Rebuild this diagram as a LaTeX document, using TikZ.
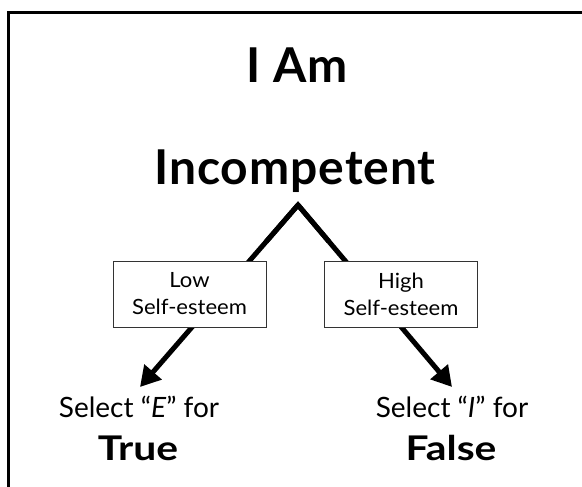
\documentclass[tikz,border=0pt]{standalone}
\usepackage{fontspec}
\setmainfont{Lato}
\usetikzlibrary{arrows.meta,calc}
\tikzset{
  frameline/.style={line width=3.4pt, black},
  title/.style={font=\fontsize{48}{50}\selectfont\bfseries\addfontfeature{LetterSpace=2}, anchor=base, inner sep=0pt},
  esteembox/.style={draw=black!80, line width=0.9pt, fill=white, minimum width=153pt, minimum height=66pt, inner sep=0pt, align=center, font=\fontsize{21}{27}\selectfont\addfontfeature{FakeStretch=1.05}},
  select/.style={font=\fontsize{28}{30}\selectfont, anchor=base, inner sep=0pt},
  answer/.style={font=\fontsize{34}{36}\selectfont\bfseries\addfontfeature{FakeStretch=1.2}, anchor=base, inner sep=0pt},
  branch/.style={line width=5pt, line join=miter, -{Triangle[length=20pt,width=22pt]}}
}
\begin{document}
\begin{tikzpicture}[x=1pt,y=1pt]
\useasboundingbox (0,0) rectangle (582,-487);
\begin{scope}
\clip (0,0) rectangle (582,-487);
\draw[frameline] (8.3,-600) -- (8.3,-12.7) -- (700,-12.7);
\end{scope}
\node[title] (iam) at (297,-83) {I Am};
\node[title] (incomp) at (295,-185) {Incompetent};
\coordinate (apex) at (298,-205);
\coordinate (tipL) at (140,-387);
\coordinate (tipR) at (452,-387);
\draw[branch] (apex) -- (tipL);
\draw[branch] (apex) -- (tipR);
\draw[line width=5pt, line join=miter] ($(apex)!0.2!(tipL)$) -- (apex) -- ($(apex)!0.2!(tipR)$);
\node[esteembox] (low) at (189.5,-294) {Low\\Self-esteem};
\node[esteembox] (high) at (401,-294) {High\\Self-esteem};
\node[select] (selE) at (139,-417) {Select “\textit{E}” for};
\node[answer] (true) at (138,-460) {True};
\node[select] (selI) at (452,-417) {Select “\textit{I}” for};
\node[answer] (false) at (451,-460) {False};
\end{tikzpicture}
\end{document}
